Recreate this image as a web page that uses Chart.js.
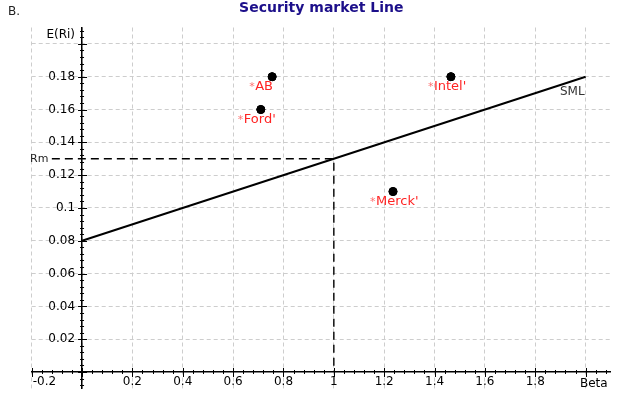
<!DOCTYPE html>
<html>
<head>
<meta charset="utf-8">
<script src="https://cdn.jsdelivr.net/npm/chart.js@4"></script>
<style>
  html, body { margin: 0; padding: 0; background: #fff; }
  #chart-container { width: 618px; height: 398px; position: relative; }
</style>
</head>
<body>
<div id="chart-container"><canvas id="chart"></canvas></div>
<script>
// stocks plotted against the security market line
const stocks = ["AB", "Ford", "Intel", "Merck"]
const stockLabels = ["AB", "Ford'", "Intel'", "Merck'"]
const betas = [0.755, 0.71, 1.465, 1.235]
const returns = [0.18, 0.16, 0.18, 0.11]

// SML: from beta 0 (risk free) to beta 2
const smlBeta = [0, 2]
const smlReturn = [0.08, 0.18]

// market return guide (Rm at beta 1)
const rmBeta = [-0.12, 1, 1]
const rmReturn = [0.13, 0.13, 0]

const xTicks = [-0.2, 0, 0.2, 0.4, 0.6, 0.8, 1, 1.2, 1.4, 1.6, 1.8, 2]
const xTickLabels = ["-0.2", "", "0.2", "0.4", "0.6", "0.8", "1", "1.2", "1.4", "1.6", "1.8", ""]
const yTicks = [0, 0.02, 0.04, 0.06, 0.08, 0.1, 0.12, 0.14, 0.16, 0.18, 0.2]
const yTickLabels = ["", "0.02", "0.04", "0.06", "0.08", "0.1", "0.12", "0.14", "0.16", "0.18", ""]

const FONT = "'DejaVu Sans', sans-serif"

const toPoints = (xs, ys) => xs.map((x, i) => ({x: x, y: ys[i]}))

// minor ticks, axis ticks, tick labels and all the free text
const decorations = {
    id: "decorations",
    beforeDatasetsDraw(chart) {
        const ctx = chart.ctx
        const sx = chart.scales.x
        const sy = chart.scales.y
        const x0 = sx.getPixelForValue(0)
        const y0 = sy.getPixelForValue(0)
        ctx.save()
        ctx.strokeStyle = "#000"
        ctx.lineWidth = 1
        ctx.beginPath()
        // x axis ticks
        for (let v = -0.2; v <= 2.1 + 1e-9; v += 0.04) {
            const px = Math.round(sx.getPixelForValue(v)) + 0.5
            const major = Math.abs(v / 0.2 - Math.round(v / 0.2)) < 1e-6
            const l = major ? 4 : 2
            ctx.moveTo(px, y0 - l)
            ctx.lineTo(px, y0 + l + (major ? 1 : 0))
        }
        // y axis ticks
        for (let v = -0.008; v <= 0.21 + 1e-9; v += 0.004) {
            const py = Math.round(sy.getPixelForValue(v)) + 0.5
            const major = Math.abs(v / 0.02 - Math.round(v / 0.02)) < 1e-6
            const l = major ? 4 : 2
            ctx.moveTo(x0 - l, py)
            ctx.lineTo(x0 + l + (major ? 1 : 0), py)
        }
        ctx.stroke()

        // tick labels (the library puts y labels on top of a centred axis)
        ctx.fillStyle = "#000"
        ctx.font = "12px " + FONT
        ctx.textAlign = "right"
        ctx.textBaseline = "middle"
        sy.ticks.forEach((t, i) => {
            ctx.fillText(yTickLabels[i], x0 - 7, sy.getPixelForValue(t.value))
        })
        ctx.textBaseline = "top"
        sx.ticks.forEach((t, i) => {
            const px = sx.getPixelForValue(t.value)
            ctx.textAlign = i == 0 ? "left" : "center"
            ctx.fillText(xTickLabels[i], i == 0 ? px + 1 : px, y0 + 4)
        })
        ctx.restore()
    },
    afterDraw(chart) {
        const ctx = chart.ctx
        const sx = chart.scales.x
        const sy = chart.scales.y
        const area = chart.chartArea
        ctx.save()
        ctx.textBaseline = "middle"

        ctx.fillStyle = "#1c0f8a"
        ctx.font = "bold 14px " + FONT
        ctx.textAlign = "center"
        ctx.fillText("Security market Line", (area.left + area.right) / 2, 8)

        ctx.fillStyle = "#222"
        ctx.font = "12px " + FONT
        ctx.textAlign = "left"
        ctx.fillText("B.", 8, 12)

        ctx.fillStyle = "#000"
        ctx.textAlign = "right"
        ctx.fillText("E(Ri)", sx.getPixelForValue(0) - 7, 35)
        ctx.textAlign = "left"
        ctx.fillText("Beta", 580, 384)

        ctx.fillStyle = "#222"
        ctx.font = "11px " + FONT
        ctx.textAlign = "left"
        ctx.fillText("Rm", 30, sy.getPixelForValue(rmReturn[0]))

        ctx.fillStyle = "#333"
        ctx.font = "12px " + FONT
        ctx.fillText("SML", 560, 92)

        stocks.forEach((s, i) => {
            const px = sx.getPixelForValue(betas[i])
            const py = sy.getPixelForValue(returns[i])
            ctx.textBaseline = "alphabetic"
            ctx.fillStyle = "#ff7070"
            ctx.font = "11px " + FONT
            ctx.fillText("*", px - 23, py + 13)
            ctx.fillStyle = "#ff2424"
            ctx.font = "13px " + FONT
            ctx.fillText(stockLabels[i], px - 17, py + 13)
        })
        // points on top of their labels
        const meta = chart.getDatasetMeta(2)
        meta.data.forEach(el => el.draw(ctx, area))
        ctx.restore()
    }
}

new Chart(document.getElementById("chart"), {
    type: "scatter",
    data: {
        datasets: [{
            label: "SML",
            data: toPoints(smlBeta, smlReturn),
            showLine: true,
            borderColor: "#000",
            borderWidth: 2,
            pointRadius: 0
        }, {
            label: "Rm",
            data: toPoints(rmBeta, rmReturn),
            showLine: true,
            borderColor: "#000",
            borderWidth: 1.4,
            borderDash: [8, 5],
            pointRadius: 0
        }, {
            label: "stocks",
            data: toPoints(betas, returns),
            backgroundColor: "#000",
            borderColor: "#000",
            pointRadius: 4
        }]
    },
    options: {
        responsive: true,
        maintainAspectRatio: false,
        animation: false,
        layout: { padding: { left: 31.7, right: 7.2, top: 27.5, bottom: 9.6 } },
        plugins: { legend: { display: false }, tooltip: { enabled: false } },
        scales: {
            x: {
                type: "linear",
                min: -0.2,
                max: 2.1,
                position: { y: 0 },
                afterBuildTicks: scale => { scale.ticks = xTicks.map(v => ({value: v})) },
                ticks: { display: false },
                grid: { color: "#cdcdcd", drawTicks: false },
                border: { color: "#000", width: 1.5, dash: [4, 3] }
            },
            y: {
                type: "linear",
                min: -0.01,
                max: 0.21,
                position: { x: 0 },
                afterBuildTicks: scale => { scale.ticks = yTicks.map(v => ({value: v})) },
                ticks: { display: false },
                grid: { color: "#cdcdcd", drawTicks: false },
                border: { color: "#000", width: 1.5, dash: [4, 3] }
            }
        }
    },
    plugins: [decorations]
})
</script>
</body>
</html>
